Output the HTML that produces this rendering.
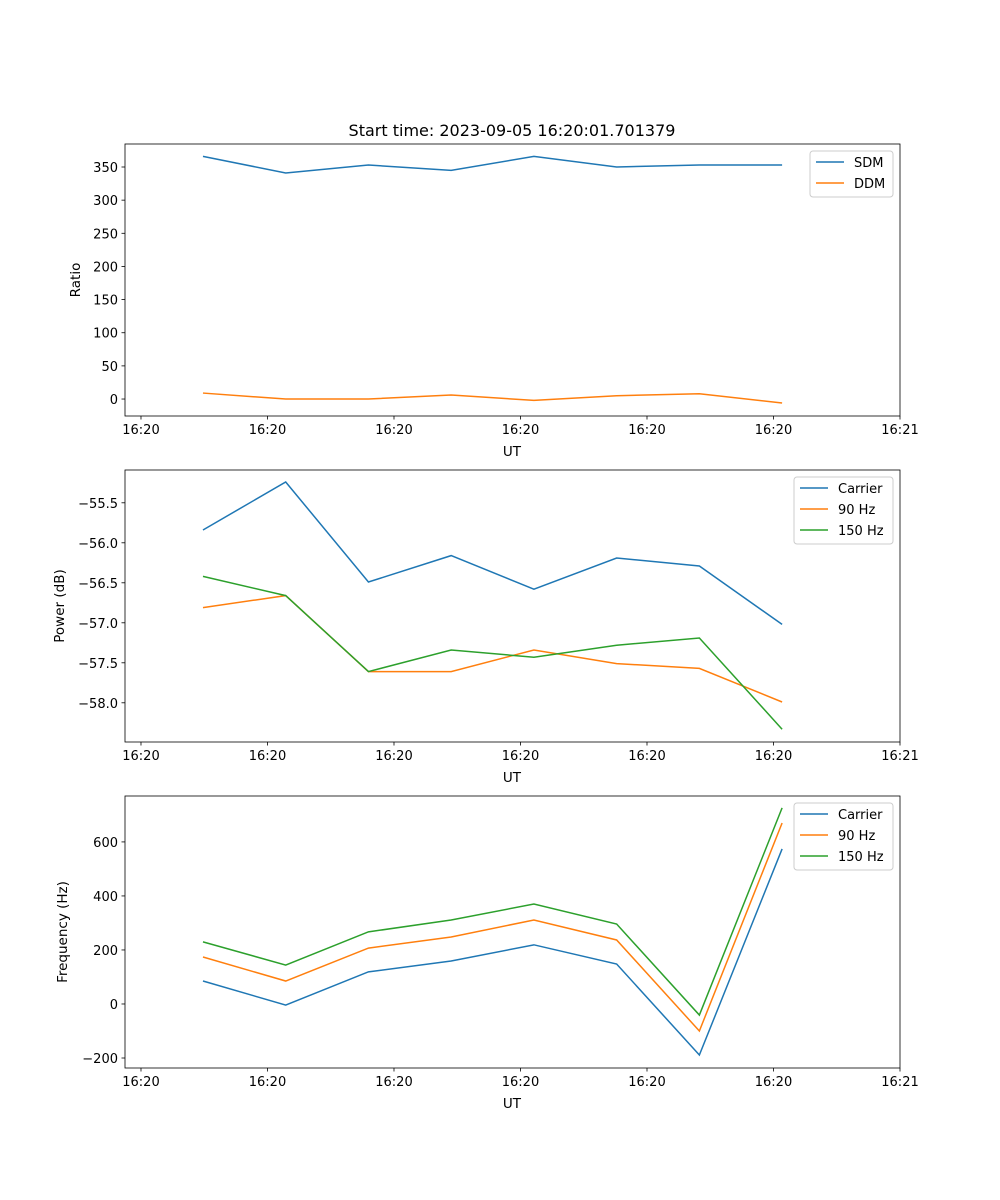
<!DOCTYPE html>
<html><head><meta charset="utf-8"><style>
body{margin:0;background:#fff}
svg{display:block;font-family:"DejaVu Sans","Liberation Sans",sans-serif}
</style></head><body>
<svg id="fig" width="1000" height="1200" xmlns="http://www.w3.org/2000/svg">
<text x="512" y="136" font-size="16" text-anchor="middle">Start time: 2023-09-05 16:20:01.701379</text>
</svg>
<script>
const times = [2.45, 5.72, 8.99, 12.26, 15.53, 18.80, 22.07, 25.34];
const xTickVals = [0, 5, 10, 15, 20, 25, 30];
const xTickLabels = ["16:20","16:20","16:20","16:20","16:20","16:20","16:21"];
const sdm = [366, 341, 353, 345, 366, 350, 353, 353];
const ddm = [9, 0, 0, 6, -2, 5, 8, -6];
const pwrCarrier = [-55.84, -55.24, -56.49, -56.16, -56.58, -56.19, -56.29, -57.02];
const pwr90 = [-56.81, -56.66, -57.61, -57.61, -57.34, -57.51, -57.57, -57.99];
const pwr150 = [-56.42, -56.66, -57.61, -57.34, -57.43, -57.28, -57.19, -58.33];
const frqCarrier = [85, -4, 119, 159, 219, 148, -189, 574];
const frq90 = [174, 85, 207, 248, 311, 237, -100, 670];
const frq150 = [230, 144, 267, 311, 370, 296, -41, 726];
const ratioTicks = [0, 50, 100, 150, 200, 250, 300, 350];
const powerTicks = [-58.0, -57.5, -57.0, -56.5, -56.0, -55.5];
const freqTicks = [-200, 0, 200, 400, 600];

const NS = "http://www.w3.org/2000/svg";
const svg = document.getElementById("fig");
const C = ["#1f77b4", "#ff7f0e", "#2ca02c"];
function mk(tag, attrs, parent) {
  const e = document.createElementNS(NS, tag);
  for (const k in attrs) e.setAttribute(k, attrs[k]);
  (parent || svg).appendChild(e);
  return e;
}
const L = 125, R = 900, XMIN = -0.632, XMAX = 30.0;
const xs = v => L + (v - XMIN) / (XMAX - XMIN) * (R - L);

function panel(name, top, bot, ymin, ymax, yticks, ylab, yfmt, series, labels, leg) {
  const g = mk("g", {});
  
  
  const ys = v => bot - (v - ymin) / (ymax - ymin) * (bot - top);
  series.forEach((s, i) => {
    const p = mk("polyline", {points: s.map((v, j) => xs(times[j]) + "," + ys(v)).join(" "), fill: "none", stroke: C[i], "stroke-width": 1.5}, g);
    
    
  });
  const fr = mk("rect", {x: L, y: top, width: R - L, height: bot - top, fill: "none", stroke: "#000", "stroke-width": 0.8}, g);
  
  
  xTickVals.forEach((v, i) => {
    const x = xs(v);
    mk("line", {x1: x, x2: x, y1: bot, y2: bot + 3.5, stroke: "#000", "stroke-width": 0.8}, g);
    const t = mk("text", {x: x, y: bot + 18, "font-size": 13, "text-anchor": "middle"}, g);
    t.textContent = xTickLabels[i];
    
    
  });
  const xl = mk("text", {x: 512, y: bot + 40, "font-size": 13.5, "text-anchor": "middle"}, g);
  xl.textContent = "UT";
  
  
  yticks.forEach(v => {
    const y = ys(v);
    mk("line", {x1: L - 3.5, x2: L, y1: y, y2: y, stroke: "#000", "stroke-width": 0.8}, g);
    const t = mk("text", {x: L - 7, y: y + 5, "font-size": 13, "text-anchor": "end"}, g);
    t.textContent = yfmt(v);
    
    
  });
  const yl = mk("text", {x: 0, y: 0, "font-size": 13.5, "text-anchor": "middle", transform: `translate(${leg.yl},${(top + bot) / 2}) rotate(-90)`}, g);
  yl.textContent = ylab;
  
  
  const lg = mk("g", {}, g);
  
  
  mk("rect", {x: leg.x, y: top + 7, width: 893 - leg.x, height: 4 + labels.length * 21, rx: 3, fill: "#fff", stroke: "#ccc", "stroke-width": 1}, lg);
  labels.forEach((lab, i) => {
    const y = top + 18 + i * 21;
    mk("line", {x1: leg.x + 6, x2: leg.x + 34, y1: y, y2: y, stroke: C[i], "stroke-width": 1.5}, lg);
    const t = mk("text", {x: leg.x + 44, y: y + 5, "font-size": 13}, lg);
    t.textContent = lab;
    
    
  });
}
const m = v => String(v).replace("-", "\u2212");
panel("ratio", 144, 416, -25.6, 384.7, ratioTicks, "Ratio", v => m(v), [sdm, ddm], ["SDM", "DDM"], {x: 810, yl: 80});
panel("power", 470, 742, -58.49, -55.09, powerTicks, "Power (dB)", v => m(v.toFixed(1)), [pwrCarrier, pwr90, pwr150], ["Carrier", "90 Hz", "150 Hz"], {x: 794, yl: 64});
panel("frequency", 796, 1068, -237, 770, freqTicks, "Frequency (Hz)", v => m(v), [frqCarrier, frq90, frq150], ["Carrier", "90 Hz", "150 Hz"], {x: 794, yl: 67});
</script>
</body></html>
